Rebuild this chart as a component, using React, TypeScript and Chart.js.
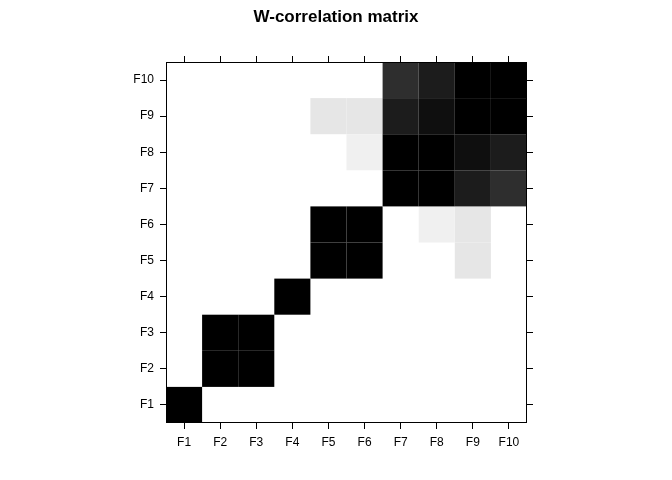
import Chart from "chart.js/auto";
import React, { useRef, useEffect } from "react";

const labels = ["F1", "F2", "F3", "F4", "F5", "F6", "F7", "F8", "F9", "F10"];

// [row, column, darkness] where darkness 1 = black (|w-corr| = 1)
const cells: [number, number, number][] = [
  [1, 1, 1],
  [2, 2, 1], [2, 3, 1], [3, 2, 1], [3, 3, 1],
  [4, 4, 1],
  [5, 5, 1], [5, 6, 1], [6, 5, 1], [6, 6, 1],
  [5, 9, 0.1], [9, 5, 0.1], [6, 9, 0.1], [9, 6, 0.1],
  [6, 8, 0.06], [8, 6, 0.06],
  [7, 7, 1], [7, 8, 1], [8, 7, 1], [8, 8, 1],
  [7, 9, 0.89], [9, 7, 0.89], [7, 10, 0.82], [10, 7, 0.82],
  [8, 9, 0.94], [9, 8, 0.94], [8, 10, 0.89], [10, 8, 0.89],
  [9, 9, 1], [9, 10, 1], [10, 9, 1], [10, 10, 1],
];

const font = { family: "'Liberation Sans', Arial, sans-serif", size: 12 };

const App: React.FC = () => {
  const canvasRef = useRef<HTMLCanvasElement | null>(null);

  useEffect(() => {
    const ctx = canvasRef.current?.getContext("2d");
    if (!ctx) return;

    const cellPlugin = {
      id: "cells",
      beforeDatasetsDraw(chart: any) {
        const c = chart.ctx;
        const x = chart.scales.x;
        const y = chart.scales.y;
        const area = chart.chartArea;
        c.save();
        c.fillStyle = "#fff";
        c.fillRect(area.left, area.top, area.right - area.left, area.bottom - area.top);
        for (const [r, col, v] of cells) {
          const g = Math.round(255 * (1 - v));
          c.fillStyle = `rgb(${g},${g},${g})`;
          const x0 = x.getPixelForValue(col - 0.5);
          const x1 = x.getPixelForValue(col + 0.5);
          const y0 = y.getPixelForValue(r + 0.5);
          const y1 = y.getPixelForValue(r - 0.5);
          c.fillRect(x0, y0, x1 - x0, y1 - y0);
        }
        c.restore();
      },
      afterDraw(chart: any) {
        const c = chart.ctx;
        const a = chart.chartArea;
        c.save();
        c.strokeStyle = "#000";
        c.lineWidth = 1;
        c.strokeRect(a.left + 0.5, a.top + 0.5, a.right - a.left - 1, a.bottom - a.top - 1);
        c.fillStyle = "#000";
        c.font = "bold 17px 'Liberation Sans', Arial, sans-serif";
        c.textAlign = "center";
        c.textBaseline = "middle";
        c.fillText("W-correlation matrix", 336, 17);
        c.restore();
      },
    };

    const tickLabel = (v: any) => {
      const i = Number(v);
      return Number.isInteger(i) && i >= 1 && i <= 10 ? labels[i - 1] : "";
    };

    const axis = (pos: string, size: number, showLabels: boolean) => ({
      type: "linear" as const,
      position: pos,
      min: 0.5,
      max: 10.5,
      afterBuildTicks: (s: any) => {
        s.ticks = labels.map((_, i) => ({ value: i + 1 }));
      },
      afterFit: (s: any) => {
        if (pos === "left" || pos === "right") s.width = size;
        else s.height = size;
      },
      grid: { drawOnChartArea: false, tickLength: 6, color: "#000", tickColor: "#000" },
      border: { display: false },
      ticks: {
        display: true,
        color: showLabels ? "#000" : "rgba(0,0,0,0)",
        font,
        padding: 6,
        autoSkip: false,
        maxRotation: 0,
        callback: tickLabel,
      },
    });

    const chart = new Chart(ctx, {
      type: "scatter",
      data: { datasets: [{ data: [], pointRadius: 0 }] },
      options: {
        animation: false,
        responsive: false,
        layout: { padding: 0 },
        plugins: { legend: { display: false }, tooltip: { enabled: false } },
        scales: {
          x: axis("bottom", 57, true) as any,
          x2: axis("top", 62, false) as any,
          y: axis("left", 166, true) as any,
          y2: axis("right", 145, false) as any,
        },
      },
      plugins: [cellPlugin],
    });

    return () => {
      chart.destroy();
    };
  }, []);

  return (
    <div style={{ position: "fixed", left: 0, top: 0, width: 672, height: 480, background: "#fff" }}>
      <canvas ref={canvasRef} width={672} height={480} />
    </div>
  );
};

export default App;
